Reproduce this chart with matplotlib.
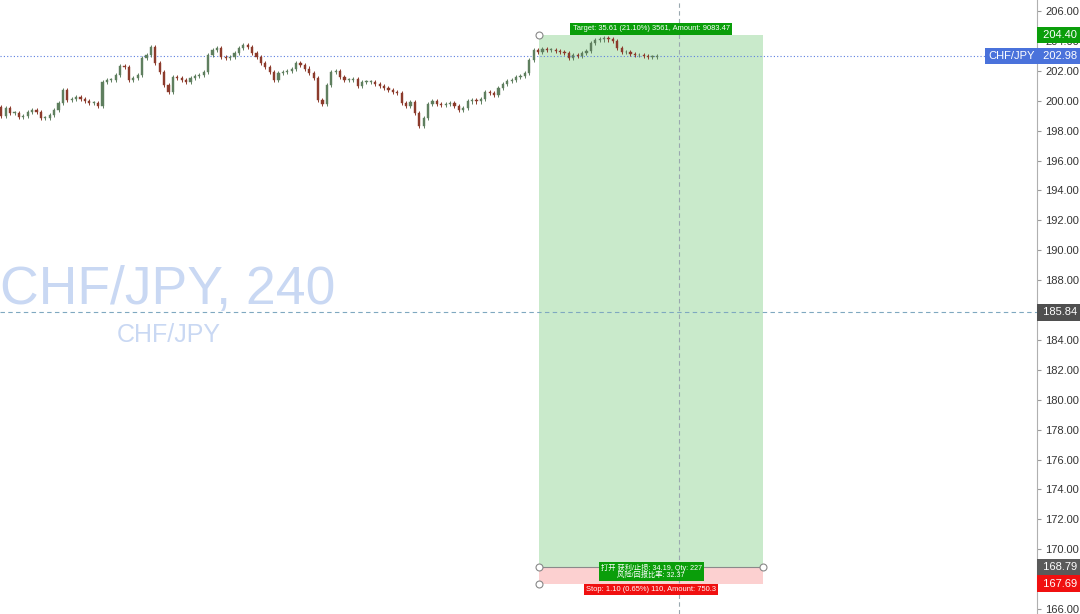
import matplotlib.pyplot as plt
from matplotlib.patches import Rectangle
from matplotlib.transforms import blended_transform_factory

# candle closes (4H bars)
closes = [
    199.0, 199.5, 199.2, 199.2, 198.9, 199.0, 199.25, 199.4, 199.25, 198.85,
    198.85, 199.05, 199.4, 199.85, 200.7, 200.05, 200.1, 200.25, 200.1, 200.0,
    199.85, 199.85, 199.65, 201.25, 201.4, 201.4, 201.7, 202.3, 202.25, 201.4,
    201.5, 201.7, 202.85, 203.05, 203.6, 202.5, 201.9, 201.05, 200.6, 201.6,
    201.5, 201.4, 201.25, 201.5, 201.65, 201.7, 201.9, 203.05, 203.4, 203.5,
    202.9, 202.85, 202.95, 203.2, 203.5, 203.7, 203.6, 203.2, 202.9, 202.5,
    202.25, 201.9, 201.4, 201.85, 201.9, 202.0, 202.1, 202.5, 202.4, 202.15,
    201.85, 201.5, 200.05, 199.8, 201.05, 201.9, 202.0, 201.6, 201.4, 201.4,
    201.45, 201.0, 201.25, 201.25, 201.25, 201.1, 201.0, 200.85, 200.7, 200.6,
    200.5, 199.85, 199.65, 199.9, 199.2, 198.3, 198.85, 199.8, 199.95, 199.8,
    199.7, 199.8, 199.85, 199.65, 199.4, 199.5, 199.95, 200.05, 199.95, 200.1,
    200.6, 200.5, 200.4, 200.85, 201.1, 201.3, 201.4, 201.6, 201.65, 201.85,
    202.7, 203.4, 203.25, 203.45, 203.4, 203.4, 203.3, 203.25, 203.2, 202.85,
    203.05, 203.0, 203.2, 203.3, 203.85, 204.05, 204.1, 204.2, 204.1, 204.0,
    203.5, 203.25, 203.25, 203.1, 203.05, 203.05, 203.0, 202.95, 202.95, 202.98,
]
first_open = 199.6
wick = 0.14

# position tool
entry_bar, end_bar = 122.3, 173.2
target_price = 204.40
entry_price = 168.79
stop_price = 167.69
last_price = 202.98
cross_price = 185.84
cross_bar = 154.1

price_ticks = list(range(166, 207, 2))
hidden_ticks = [168, 186]  # sit under the price boxes

opens = [first_open] + closes[:-1]
highs = [max(o, c) + wick for o, c in zip(opens, closes)]
lows = [min(o, c) - wick for o, c in zip(opens, closes)]

UP = "#5f7f5f"
DOWN = "#8c3b2c"
FONT = "Liberation Sans"

fig = plt.figure(figsize=(10.8, 6.14), dpi=100)
ax = fig.add_axes([0, 0, 1037 / 1080, 1])
ax.set_xlim(-0.3, 235.4)
ax.set_ylim(165.666, 206.736)

# watermark
ax.text(0.0, 0.528, "CHF/JPY, 240", transform=ax.transAxes, fontsize=38.5,
        color="#c9d8f3", ha="left", va="center", family=FONT, zorder=0)
ax.text(0.113, 0.455, "CHF/JPY", transform=ax.transAxes, fontsize=18,
        color="#c9d8f3", ha="left", va="center", family=FONT, zorder=0)

# position boxes
ax.add_patch(Rectangle((entry_bar, entry_price), end_bar - entry_bar,
                       target_price - entry_price, facecolor="#c9eacb",
                       edgecolor="none", zorder=1))
ax.add_patch(Rectangle((entry_bar, stop_price), end_bar - entry_bar,
                       entry_price - stop_price, facecolor="#fcd0d0",
                       edgecolor="none", zorder=1))
ax.plot([entry_bar, end_bar], [entry_price, entry_price], color="#8a8a8a", lw=0.8, zorder=2)
for px, py in [(entry_bar, target_price), (entry_bar, entry_price),
               (end_bar, entry_price), (entry_bar, stop_price)]:
    ax.plot(px, py, "o", ms=5, mfc="white", mec="#888888", mew=0.8, zorder=6, clip_on=False)

# crosshair and last price line
ax.axhline(last_price, color="#5b7fe0", lw=0.8, ls=(0, (1, 2)), zorder=2)
ax.axhline(cross_price, color="#7fa8c0", lw=0.8, ls=(0, (4, 3)), zorder=2)
ax.axvline(cross_bar, color="#9aa8b0", lw=0.8, ls=(0, (4, 3)), zorder=2)

# candles
for i, (o, h, l, c) in enumerate(zip(opens, highs, lows, closes)):
    col = UP if c >= o else DOWN
    ax.vlines(i, l, h, color=col, lw=0.7, zorder=3)
    ax.bar(i, max(abs(c - o), 0.04), bottom=min(o, c), width=0.5,
           color=col, edgecolor=col, lw=0.3, zorder=4)

# labels on the tool
mid_bar = 147.7
ax.text(mid_bar, 204.8, "Target: 35.61 (21.10%) 3561, Amount: 9083.47", fontsize=5.4,
        color="white", ha="center", va="center", family=FONT, zorder=7,
        bbox=dict(boxstyle="square,pad=0.3", fc="#0a9e0a", ec="none"))
ax.text(mid_bar, 168.5, "打开 获利/止损: 34.19, Qty: 227\n风险/回报比率: 32.37", fontsize=5.2,
        color="white", ha="center", va="center", linespacing=0.95,
        family=[FONT, "Noto Sans CJK SC"], zorder=7,
        bbox=dict(boxstyle="square,pad=0.25", fc="#0a9e0a", ec="none"))
ax.text(mid_bar, 167.3, "Stop: 1.10 (0.65%) 110, Amount: 750.3", fontsize=5.4,
        color="white", ha="center", va="center", family=FONT, zorder=7,
        bbox=dict(boxstyle="square,pad=0.3", fc="#f01010", ec="none"))

# right price axis
ax.yaxis.tick_right()
ax.set_yticks(price_ticks)
ax.set_yticklabels(["" if t in hidden_ticks else f"{t:.2f}" for t in price_ticks],
                   fontsize=8, color="#333333", family=FONT)
ax.tick_params(axis="y", length=3, color="#999999", pad=3)
ax.set_xticks([])
for side in ["top", "left", "bottom"]:
    ax.spines[side].set_visible(False)
ax.spines["right"].set_color("#b0b0b0")

tr = blended_transform_factory(ax.transAxes, ax.transData)
for price, fc in [(target_price, "#0a9e0a"), (last_price, "#4a72db"),
                  (cross_price, "#4f4f4f"), (entry_price, "#5a5a5a"),
                  (stop_price, "#f01010")]:
    ax.text(1.003, price, f" {price:.2f} ", transform=tr, fontsize=8, color="white",
            ha="left", va="center", family=FONT, clip_on=False, zorder=8,
            bbox=dict(boxstyle="square,pad=0.3", fc=fc, ec="none"))
ax.text(0.9975, last_price, "CHF/JPY", transform=tr, fontsize=8, color="white",
        ha="right", va="center", family=FONT, clip_on=False, zorder=8,
        bbox=dict(boxstyle="square,pad=0.3", fc="#4a72db", ec="none"))

fig.savefig("out.png", dpi=100, facecolor="white")
